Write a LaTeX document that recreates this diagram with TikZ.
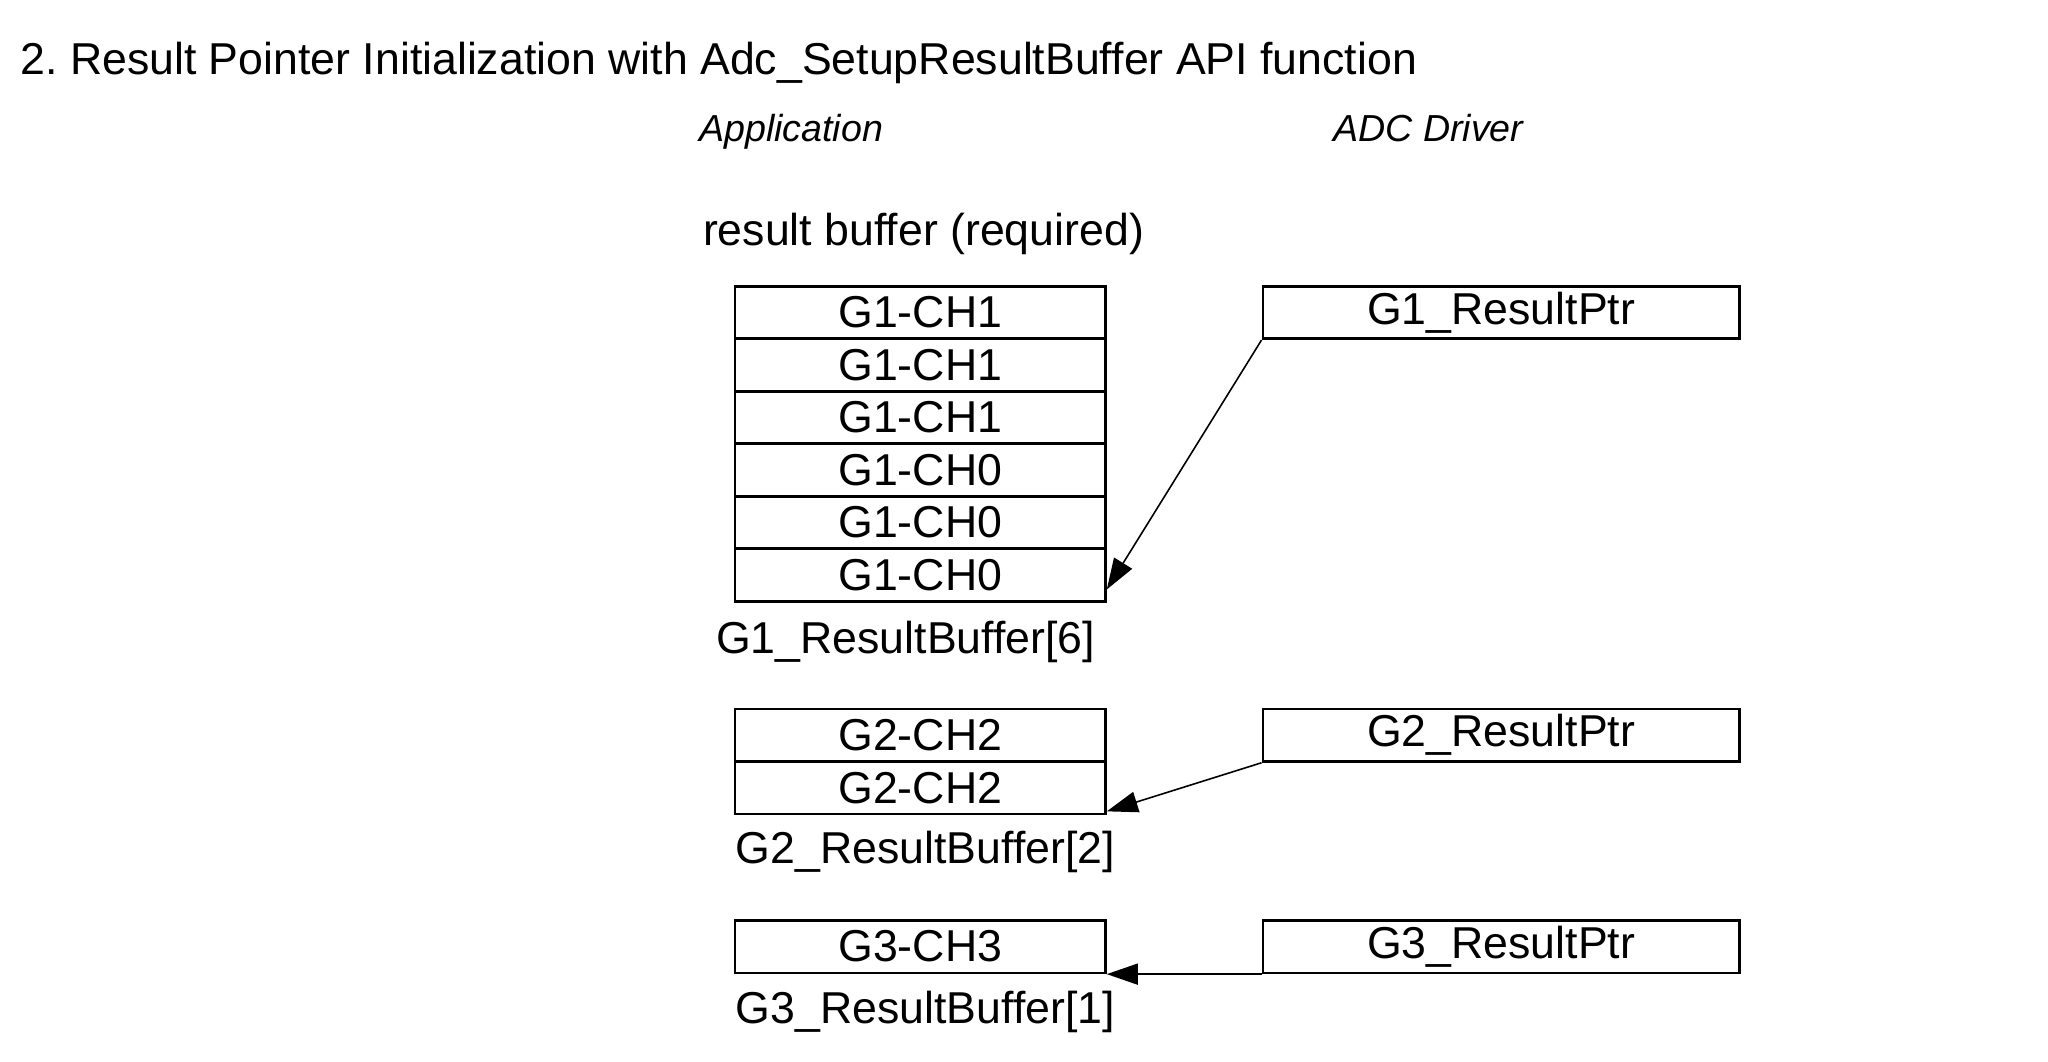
\documentclass[tikz,border=0pt]{standalone}
\usepackage{fontspec}
\setmainfont{Liberation Sans}
\frenchspacing
\usetikzlibrary{arrows.meta,positioning,calc}

\tikzset{
  CellBox/.style={draw,line width=.75pt,minimum width=3.702cm,minimum height=.525cm,
    inner sep=0pt,font=\fontsize{12.7}{15}\selectfont},
  PtrBox/.style={CellBox,minimum width=4.765cm},
  PlainTxt/.style={anchor=west,inner sep=0pt,font=\fontsize{12.7}{15}\selectfont},
  SideTxt/.style={anchor=base west,inner sep=0pt,font=\fontsize{10.7}{13}\selectfont\itshape},
  PtrArrow/.style={line width=.45pt,-{Triangle[length=.31cm,width=.21cm]}}
}

\begin{document}
\begin{tikzpicture}[x=0.013128cm,y=-0.013128cm]
\useasboundingbox[fill=white] (0,0) rectangle (1560,808.2);

\node[PlainTxt] (title) at (15,48) {2. Result Pointer Initialization with Adc\_SetupResultBuffer API function};
\node[SideTxt] (app) at (532,108) {Application};
\node[SideTxt] (drv) at (1015,108) {ADC Driver};
\node[PlainTxt] (req) at (535,178) {result buffer (required)};

% group 1
\foreach \lab [count=\i] in {G1-CH1,G1-CH1,G1-CH1,G1-CH0,G1-CH0,G1-CH0}
  \node[CellBox] (gA\i) at (701,198+40*\i) {\lab};
\node[PtrBox] (ptrA) at (1143.5,238) {G1\_ResultPtr};
\node[PlainTxt] (bufA) at (545,489) {G1\_ResultBuffer[6]};
\coordinate (tipA) at ($(gA6.south east)+(0,-10)$);
\draw[PtrArrow] (ptrA.south west) -- (tipA);

% group 2
\foreach \lab [count=\i] in {G2-CH2,G2-CH2}
  \node[CellBox] (gB\i) at (701,520+40*\i) {\lab};
\node[PtrBox] (ptrB) at (1143.5,560) {G2\_ResultPtr};
\node[PlainTxt] (bufB) at (560,649) {G2\_ResultBuffer[2]};
\coordinate (tipB) at ($(gB2.south east)+(0,-3)$);
\draw[PtrArrow] (ptrB.south west) -- (tipB);

% group 3
\node[CellBox] (gC1) at (701,721) {G3-CH3};
\node[PtrBox] (ptrC) at (1143.5,721) {G3\_ResultPtr};
\node[PlainTxt] (bufC) at (560,771) {G3\_ResultBuffer[1]};
\draw[PtrArrow] (ptrC.south west) -- (gC1.south east);

\end{tikzpicture}
\end{document}
